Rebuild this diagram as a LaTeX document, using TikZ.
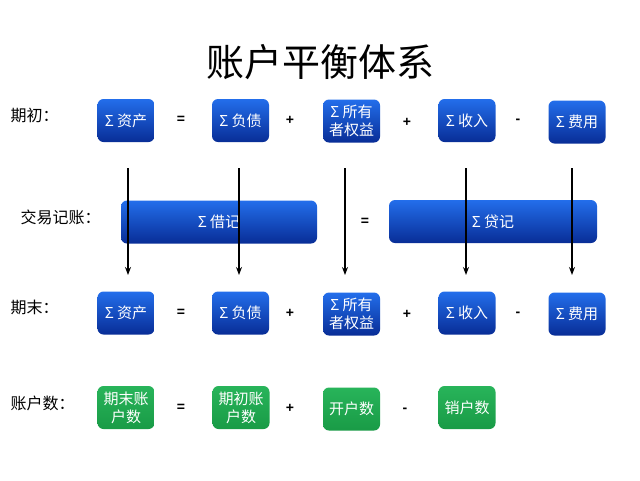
\documentclass[tikz,border=0pt]{standalone}
\usepackage{fontspec}
\setmainfont{Liberation Sans}
\newfontfamily\cjk{Noto Sans CJK SC}
\usetikzlibrary{arrows.meta}
\definecolor{btop}{RGB}{35,110,235}
\definecolor{bbot}{RGB}{8,45,150}
\definecolor{gtop}{RGB}{40,180,90}
\definecolor{gbot}{RGB}{25,155,70}
\tikzset{
  bluebox/.style={rounded corners=6pt, top color=btop, bottom color=bbot, draw=none,
    minimum width=57pt, minimum height=43pt, inner sep=1pt, align=center,
    text=white, font=\cjk\fontsize{15}{18}\selectfont},
  widebox/.style={bluebox, minimum width=#1},
  greenbox/.style={bluebox, top color=gtop, bottom color=gbot},
  oplabel/.style={font=\bfseries\fontsize{14}{14}\selectfont},
  rowlabel/.style={anchor=west, font=\cjk\fontsize{16}{18}\selectfont},
  arr/.style={line width=2pt, -{Stealth[length=8pt,width=6pt]}}
}
\begin{document}
\begin{tikzpicture}[x=1pt,y=-1pt]
\useasboundingbox (0,0) rectangle (640,480);
\fill[white] (0,0) rectangle (640,480);
% title
\node (title) at (320,62) {\cjk\fontsize{38}{40}\selectfont 账户平衡体系};
% row labels
\node[rowlabel] (l1) at (7,115) {期初：};
\node[rowlabel] (l2) at (17,217) {交易记账：};
\node[rowlabel] (l3) at (7,307) {期末：};
\node[rowlabel] (l4) at (7,403) {账户数：};
% row 1
\node[bluebox] (a1) at (126,120.5) {Σ 资产};
\node[bluebox] (b1) at (240.5,120.5) {Σ 负债};
\node[bluebox] (c1) at (351.5,121) {Σ 所有\\者权益};
\node[bluebox] (d1) at (467,120.5) {Σ 收入};
\node[bluebox] (e1) at (577,122) {Σ 费用};
\node[oplabel] (o11) at (181,120) {=};
\node[oplabel] (o12) at (290,120) {+};
\node[oplabel] (o13) at (407,122) {+};
\node[oplabel] (o14) at (518,121) {-};
% row 3
\node[bluebox] (a3) at (126,313) {Σ 资产};
\node[bluebox] (b3) at (240.5,313) {Σ 负债};
\node[bluebox] (c3) at (351.5,314) {Σ 所有\\者权益};
\node[bluebox] (d3) at (467,313) {Σ 收入};
\node[bluebox] (e3) at (577,314) {Σ 费用};
\node[oplabel] (o31) at (181,313) {=};
\node[oplabel] (o32) at (290,313) {+};
\node[oplabel] (o33) at (407,314) {+};
\node[oplabel] (o34) at (518,314) {-};
% row 2 wide boxes
\node[widebox=196pt] (debit) at (219,222) {Σ 借记};
\node[widebox=208pt] (credit) at (493,221.5) {Σ 贷记};
\node[oplabel] (o21) at (365,222) {=};
% arrows
\coordinate (s1) at (128,168); \coordinate (t1) at (128,275);
\coordinate (s2) at (239,168); \coordinate (t2) at (239,275);
\coordinate (s3) at (345,168); \coordinate (t3) at (345,275);
\coordinate (s4) at (466,168); \coordinate (t4) at (466,275);
\coordinate (s5) at (572,168); \coordinate (t5) at (572,275);
\foreach \i in {1,...,5} {\draw[arr] (s\i) -- (t\i);}
% row 4
\node[greenbox] (a4) at (126,407.5) {期末账\\户数};
\node[greenbox] (b4) at (241,407.5) {期初账\\户数};
\node[greenbox] (c4) at (351.5,409) {开户数};
\node[greenbox] (d4) at (467,407.5) {销户数};
\node[oplabel] (o41) at (181,408) {=};
\node[oplabel] (o42) at (290,408) {+};
\node[oplabel] (o43) at (405,410) {-};
\end{tikzpicture}
\end{document}
